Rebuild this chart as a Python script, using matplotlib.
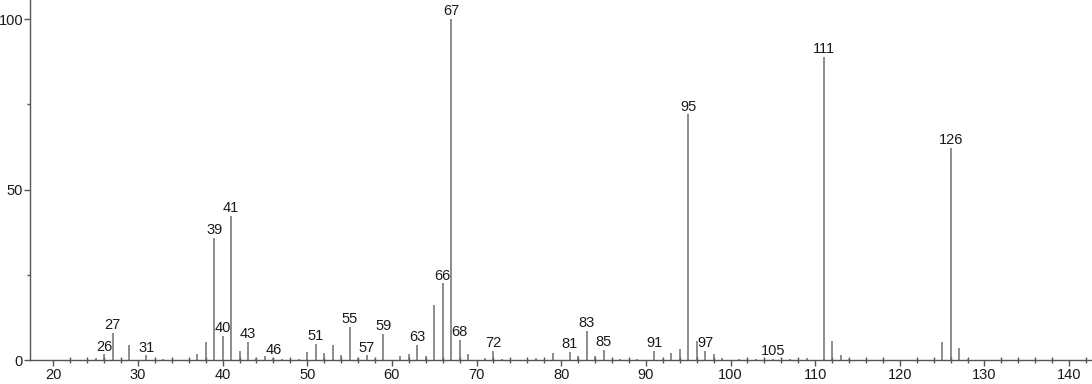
import matplotlib
matplotlib.use("Agg")
import matplotlib.pyplot as plt
from matplotlib.ticker import MultipleLocator, FixedLocator

plt.rcParams['font.family'] = ['Liberation Sans', 'DejaVu Sans']

# m/z values and relative intensities
mz = [25, 26, 27, 29, 31, 33, 37, 38, 39, 40, 41, 42, 43, 44, 45, 46, 47, 49,
      50, 51, 52, 53, 54, 55, 56, 57, 58, 59, 61, 62, 63, 64, 65, 66, 67, 68,
      69, 71, 72, 73, 77, 79, 81, 82, 83, 84, 85, 87, 89, 91, 92, 93, 94, 95,
      96, 97, 98, 99, 101, 103, 105, 107, 109, 111, 112, 113, 114, 125, 126,
      127, 128]
intensity = [0.5, 1.7, 8.0, 4.5, 1.4, 0.4, 1.7, 5.3, 35.8, 7.1, 42.2, 2.7, 5.3,
             0.6, 1.2, 0.7, 0.3, 0.4, 2.4, 4.8, 2.0, 4.4, 1.5, 9.8, 0.5, 1.4,
             0.3, 7.6, 1.3, 1.8, 4.5, 1.2, 16.0, 22.5, 100.0, 5.9, 1.8, 0.6,
             2.7, 0.3, 0.6, 2.2, 2.4, 1.3, 8.6, 1.2, 2.9, 0.3, 0.3, 2.6, 0.4,
             2.2, 3.2, 72.1, 5.5, 2.6, 1.8, 0.5, 0.3, 0.3, 0.4, 0.3, 0.7, 88.9,
             5.6, 1.5, 0.4, 5.4, 62.2, 3.6, 0.4]
labeled = [26, 27, 31, 39, 40, 41, 43, 46, 51, 55, 57, 59, 63, 66, 67, 68, 72,
           81, 83, 85, 91, 95, 97, 105, 111, 126]
minor_x = [v for v in range(22, 143, 2) if v % 10 != 0]

fig = plt.figure(figsize=(10.92, 3.84), dpi=100)
ax = fig.add_axes([30/1092, 24/384, 1 - 30/1092, 1 - 24/384])

ax.vlines(mz, 0, intensity, colors='#6e6e6e', linewidth=1.1)
for m, v in zip(mz, intensity):
    if m in labeled:
        ax.annotate(str(m), (m, v), xytext=(0, 0.5), textcoords='offset points',
                    ha='center', va='bottom', fontsize=10.5, color='#1a1a1a')

ax.set_xlim(17.25, 142.7)
ax.set_ylim(0, 105.6)

for s in ['top', 'right']:
    ax.spines[s].set_visible(False)
for s in ['left', 'bottom']:
    ax.spines[s].set_color('#555555')
    ax.spines[s].set_linewidth(1.0)

ax.xaxis.set_major_locator(MultipleLocator(10))
ax.xaxis.set_minor_locator(FixedLocator(minor_x))
ax.yaxis.set_major_locator(MultipleLocator(50))
ax.yaxis.set_minor_locator(MultipleLocator(25))
ax.tick_params(axis='x', which='major', direction='out', length=4, width=1,
               color='#555555', labelsize=10.5, labelcolor='#1a1a1a', pad=2)
ax.tick_params(axis='x', which='minor', direction='inout', length=5, width=1,
               color='#555555')
ax.tick_params(axis='y', which='major', direction='out', length=4, width=1,
               color='#555555', labelsize=10.5, labelcolor='#1a1a1a', pad=1)
ax.tick_params(axis='y', which='minor', direction='out', length=2.5, width=1,
               color='#555555')

fig.savefig('out.png', dpi=100)
